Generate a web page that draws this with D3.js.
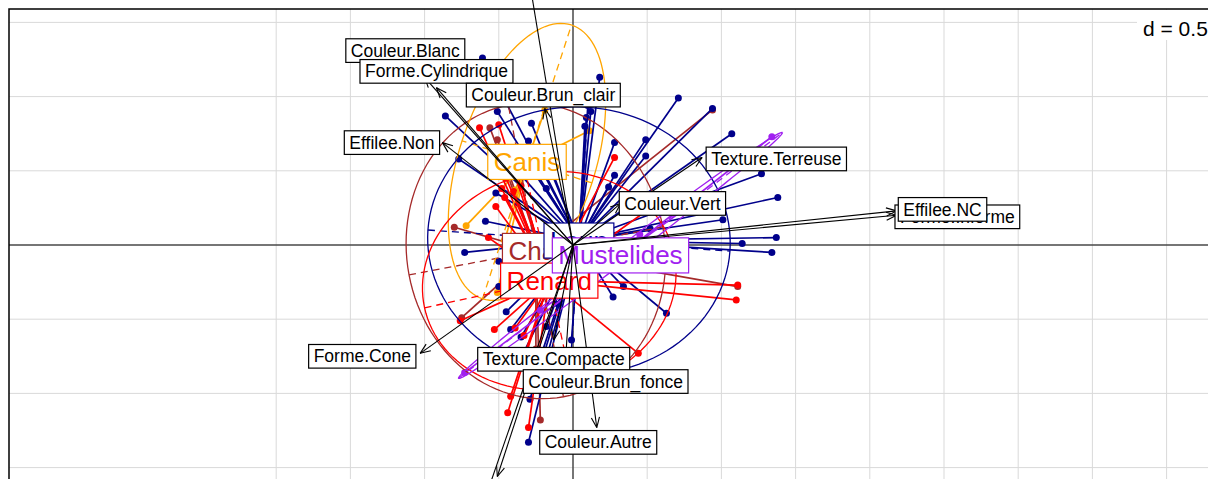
<!DOCTYPE html>
<html>
<head>
<meta charset="utf-8">
<script src="https://cdn.jsdelivr.net/npm/d3@7"></script>
<style>
  html, body { margin: 0; padding: 0; background: #fff; }
  svg { display: block; font-family: "Liberation Sans", Arial, sans-serif; }
</style>
</head>
<body>
<svg id="chart" width="1208" height="479"></svg>
<script>
// grid ticks (data units), the grid step is d = 0.5
const xGridTicks = [-2, -1.5, -1, -0.5, 0, 0.5, 1, 1.5, 2, 2.5, 3, 3.5, 4];
const yGridTicks = [-1.5, -1, -0.5, 0, 0.5, 1, 1.5];
const gridLabel  = "d = 0.5";

// groups (s.class)
const groupNames  = ["Chat", "Canis", "Loup", "Renard", "Mustelides"];
const groupColors = ["#a52a2a", "#ffa500", "#00008b", "#ff0000", "#a020f0"];
const groupCenters = [[-0.25, -0.04], [-0.31, 0.56], [0.04, 0.03], [-0.16, -0.24], [0.32, -0.07]];
// ellipse: half axes and angle (deg)
const ellA     = [0.87, 0.97, 1.02, 0.86, 1.37];
const ellB     = [1.00, 0.46, 0.90, 0.73, 0.05];
const ellAngle = [10.7, 72, -4, 12.3, 37.2];

const chatPts = [[-0.51, 0.71], [-0.80, 0.12], [0.94, 0.91], [1.11, -0.28], [-0.75, -0.49],
  [-0.56, 0.79], [-0.25, -0.70], [-0.22, -1.18]];
const canisPts = [[-0.51, -0.32], [-0.72, 0.13], [-0.19, 0.91], [0.11, 0.77],
  [-0.46, 0.03], [-0.39, 0.37]];
const loupPts = [[0.18, 1.13], [0.71, 0.99], [0.94, 0.92], [1.07, 0.75], [-0.86, 0.87],
  [-0.51, 0.90], [-0.28, 0.82], [0.28, 0.69], [0.49, 0.71], [0.49, 0.60], [0.28, 0.47],
  [0.24, 0.39], [-0.77, 0.58], [-0.52, 0.35], [-0.59, 0.16], [1.27, 0.48], [1.38, 0.32],
  [1.01, 0.17], [1.37, 0.05], [1.14, 0.01], [1.34, -0.05], [0.34, -0.28], [0.27, -0.35],
  [0.63, -0.46], [-0.73, -0.05], [-0.50, -0.11], [-0.50, -0.28], [-0.01, -0.64],
  [-0.30, -1.33], [-0.61, 1.26], [-0.18, 0.38], [0.10, 0.94], [0.09, 0.86], [-0.36, -0.78],
  [-0.29, -1.04], [-0.42, -0.57], [-0.22, -0.91], [0.52, 0.11], [-0.35, 0.62], [-0.42, 0.55],
  [-0.30, 0.70], [-0.20, 0.65], [-0.45, -0.45], [-0.35, -0.62], [-0.25, -0.85],
  [-0.18, -0.55], [-0.10, -0.40], [0.08, 0.80], [0.12, 0.90]];
const renardPts = [[-0.63, 0.79], [-0.50, 0.81], [0.28, 0.59], [1.11, -0.27], [1.10, -0.37],
  [-0.57, 0.05], [-0.76, -0.51], [-0.53, -0.57], [-0.39, -0.56], [-0.33, -0.61], [0.44, -0.73],
  [-0.42, -1.02], [-0.44, -1.13], [-0.30, -1.23], [-0.46, 0.32], [-0.40, 0.36], [-0.52, 0.26],
  [-0.35, 0.40], [0.62, 0.32], [-0.45, 0.45], [-0.38, 0.50], [-0.48, 0.38]];
const mustelidesPts = [[-0.73, -0.86], [-0.22, -0.44], [0.86, 0.32], [1.34, 0.73], [0.45, 0.07]];
const groupPoints = [chatPts, canisPts, loupPts, renardPts, mustelidesPts];
const drawOrder = [0, 1, 2, 3, 4];

// variables (s.arrow)
const arrowNames = ["Couleur.Blanc", "Forme.Cylindrique", "Couleur.Brun_clair", "Effilee.Non",
  "Texture.Terreuse", "Couleur.Vert", "Forme.Informe", "Effilee.NC", "Forme.Cone",
  "Texture.Compacte", "Couleur.Brun_fonce", "Couleur.Autre", "", "", ""];
const arrowEnds = [[-1.00, 1.13], [-0.92, 1.06], [-0.19, 0.92], [-0.88, 0.69], [0.87, 0.59],
  [0.32, 0.28], [2.18, 0.20], [2.18, 0.23], [-1.03, -0.73], [-0.13, -0.64], [-0.05, -0.77],
  [0.16, -1.23], [-0.34, 2.06], [-0.51, -1.56], [-0.69, -1.99]];
const arrowLabelPos = [[-1.13, 1.31], [-0.92, 1.17], [-0.20, 1.01], [-1.22, 0.69], [1.37, 0.58],
  [0.67, 0.28], [2.59, 0.19], [2.49, 0.24], [-1.42, -0.75], [-0.13, -0.77], [0.22, -0.92],
  [0.17, -1.33], null, null, null];

const svg = d3.select("#chart");
const W = 1208, H = 479;

const x = d3.scaleLinear().domain([0, 0.5]).range([573, 647.2]);
const y = d3.scaleLinear().domain([0, 0.5]).range([245, 170.8]);

const FRAME = { left: 9, top: 9 };

// grid
const grid = svg.append("g");
grid.selectAll(".gx")
  .data(xGridTicks)
  .join("line")
    .attr("x1", d => x(d)).attr("x2", d => x(d))
    .attr("y1", FRAME.top).attr("y2", H)
    .attr("stroke", "#d9d9d9").attr("stroke-width", 1);
grid.selectAll(".gy")
  .data(yGridTicks)
  .join("line")
    .attr("x1", FRAME.left).attr("x2", W)
    .attr("y1", d => y(d)).attr("y2", d => y(d))
    .attr("stroke", "#d9d9d9").attr("stroke-width", 1);

// zero axes
svg.append("line")
  .attr("x1", FRAME.left).attr("x2", W)
  .attr("y1", y(0)).attr("y2", y(0))
  .attr("stroke", "#000").attr("stroke-width", 1);
svg.append("line")
  .attr("x1", x(0)).attr("x2", x(0))
  .attr("y1", FRAME.top).attr("y2", H)
  .attr("stroke", "#000").attr("stroke-width", 1);

function ellipsePoints(gi) {
  const th = ellAngle[gi] * Math.PI / 180;
  const [cx, cy] = groupCenters[gi];
  const a = ellA[gi], b = ellB[gi];
  return d3.range(0, 361, 3).map(t => {
    const p = t * Math.PI / 180;
    return [
      cx + a * Math.cos(p) * Math.cos(th) - b * Math.sin(p) * Math.sin(th),
      cy + a * Math.cos(p) * Math.sin(th) + b * Math.sin(p) * Math.cos(th),
    ];
  });
}

const line = d3.line().x(d => x(d[0])).y(d => y(d[1]));

// stars and points
const classG = svg.append("g");
drawOrder.forEach(gi => {
  const col = groupColors[gi];
  const c = groupCenters[gi];
  const g = classG.append("g");
  g.selectAll("line")
    .data(groupPoints[gi])
    .join("line")
      .attr("x1", d => x(d[0])).attr("y1", d => y(d[1]))
      .attr("x2", x(c[0])).attr("y2", y(c[1]))
      .attr("stroke", col).attr("stroke-width", 1.7);
  g.selectAll("circle")
    .data(groupPoints[gi])
    .join("circle")
      .attr("cx", d => x(d[0])).attr("cy", d => y(d[1]))
      .attr("r", 3.5)
      .attr("fill", col);
});

// ellipses with their axes
drawOrder.forEach(gi => {
  const col = groupColors[gi];
  const th = ellAngle[gi] * Math.PI / 180;
  const [cx, cy] = groupCenters[gi];
  classG.append("path")
    .attr("d", line(ellipsePoints(gi)))
    .attr("fill", "none")
    .attr("stroke", col).attr("stroke-width", 1.3);
  const ax1 = [[cx - ellA[gi] * Math.cos(th), cy - ellA[gi] * Math.sin(th)],
               [cx + ellA[gi] * Math.cos(th), cy + ellA[gi] * Math.sin(th)]];
  const ax2 = [[cx + ellB[gi] * Math.sin(th), cy - ellB[gi] * Math.cos(th)],
               [cx - ellB[gi] * Math.sin(th), cy + ellB[gi] * Math.cos(th)]];
  [ax1, ax2].forEach(seg => {
    classG.append("path")
      .attr("d", line(seg))
      .attr("stroke", col).attr("stroke-width", 1.3)
      .attr("stroke-dasharray", "7,5");
  });
});

function boxLabel(parent, px, py, text, size, color, pad) {
  const g = parent.append("g");
  const rect = g.append("rect");
  const t = g.append("text")
    .attr("x", px).attr("y", py)
    .attr("dy", "0.35em")
    .attr("text-anchor", "middle")
    .attr("font-size", size)
    .attr("fill", color)
    .text(text);
  const w = t.node().getComputedTextLength();
  const h = size * 1.35;
  rect.attr("x", px - w / 2 - pad).attr("y", py - h / 2)
    .attr("width", w + 2 * pad).attr("height", h)
    .attr("fill", "#fff")
    .attr("stroke", color).attr("stroke-width", 1.2);
}

// group labels
const labelG = svg.append("g");
drawOrder.forEach(gi => {
  const c = groupCenters[gi];
  boxLabel(labelG, x(c[0]), y(c[1]), groupNames[gi], 26, groupColors[gi], 6);
});

// arrows
const arrowG = svg.append("g");
arrowEnds.forEach((e, i) => {
  const x0 = x(0), y0 = y(0), x1 = x(e[0]), y1 = y(e[1]);
  arrowG.append("line")
    .attr("x1", x0).attr("y1", y0).attr("x2", x1).attr("y2", y1)
    .attr("stroke", "#000").attr("stroke-width", 1.1);
  const ang = Math.atan2(y1 - y0, x1 - x0);
  const len = 11, spread = 0.38;
  [ang + Math.PI - spread, ang + Math.PI + spread].forEach(a => {
    arrowG.append("line")
      .attr("x1", x1).attr("y1", y1)
      .attr("x2", x1 + len * Math.cos(a)).attr("y2", y1 + len * Math.sin(a))
      .attr("stroke", "#000").attr("stroke-width", 1.1);
  });
});
arrowLabelPos.forEach((p, i) => {
  if (!p) return;
  boxLabel(arrowG, x(p[0]), y(p[1]), arrowNames[i], 17.5, "#000", 5);
});

// frame
svg.append("rect")
  .attr("x", FRAME.left).attr("y", FRAME.top)
  .attr("width", W + 20).attr("height", H + 20)
  .attr("fill", "none")
  .attr("stroke", "#000").attr("stroke-width", 1.5);

// scale label
svg.append("rect")
  .attr("x", 1137).attr("y", FRAME.top + 1)
  .attr("width", 80).attr("height", 30)
  .attr("fill", "#fff");
svg.append("text")
  .attr("x", 1143).attr("y", 36)
  .attr("font-size", 21)
  .attr("fill", "#000")
  .text(gridLabel);
</script>
</body>
</html>
